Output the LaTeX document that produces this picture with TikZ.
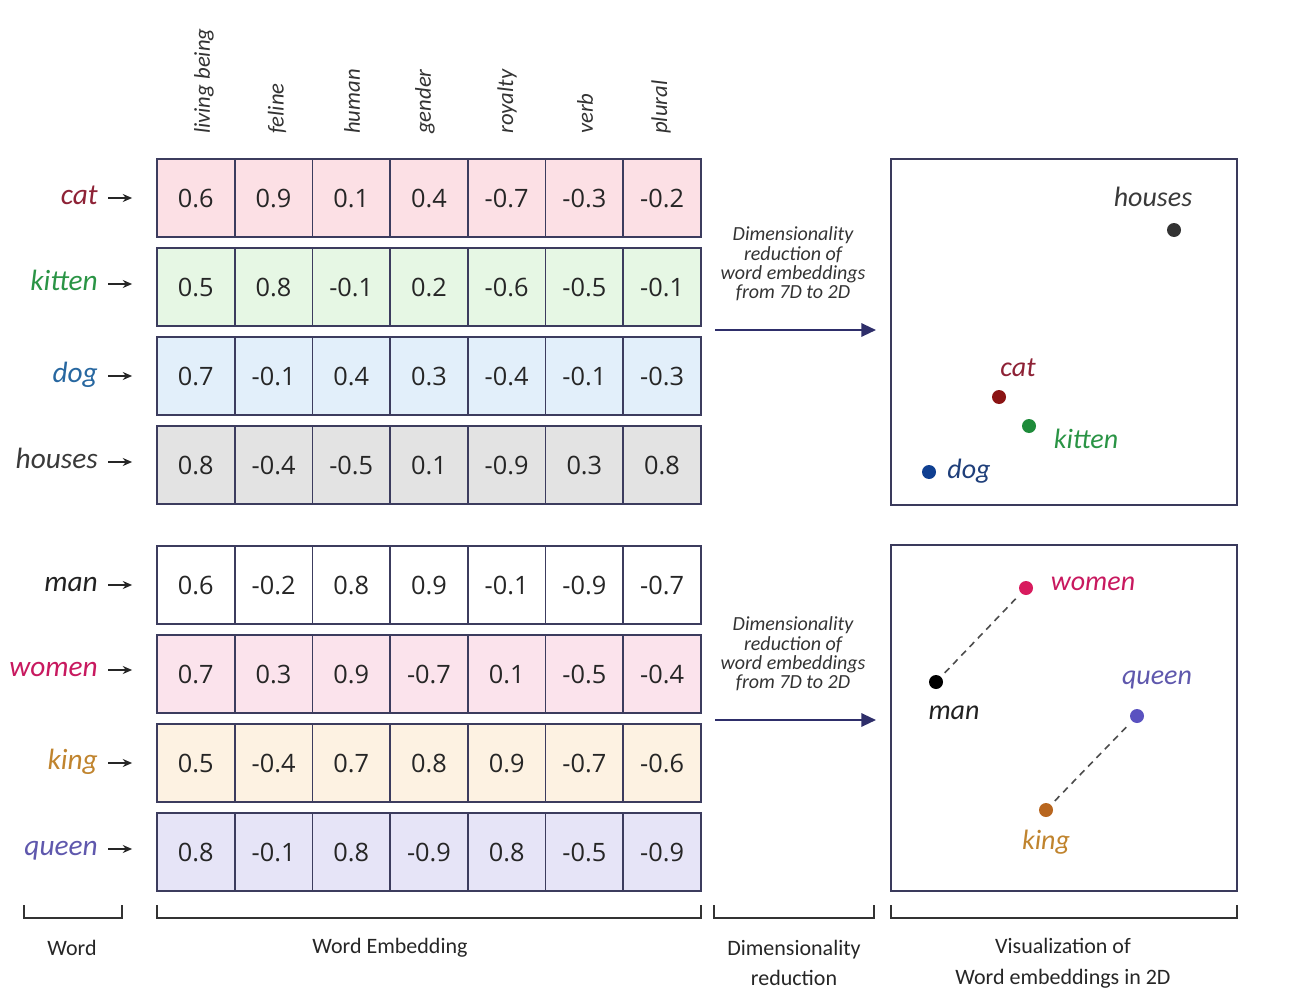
\documentclass[tikz,border=0pt]{standalone}
\usepackage{fontspec}
\setmainfont{Carlito}
\newfontfamily\numfont{Open Sans}
\usetikzlibrary{arrows.meta}
\definecolor{cellborder}{HTML}{3C3C5E}
\definecolor{boxborder}{HTML}{3A3A5C}
\definecolor{navy}{HTML}{2E2E6A}
\definecolor{pinkfill}{HTML}{FCE0E5}
\definecolor{greenfill}{HTML}{E6F7E4}
\definecolor{bluefill}{HTML}{E2EFFA}
\definecolor{grayfill}{HTML}{E3E3E3}
\definecolor{womenfill}{HTML}{FBE3EC}
\definecolor{kingfill}{HTML}{FDF2E2}
\definecolor{queenfill}{HTML}{E6E4F7}
\definecolor{catc}{HTML}{8E2236}
\definecolor{kittenc}{HTML}{2A9445}
\definecolor{dogc}{HTML}{2767A0}
\definecolor{housesc}{HTML}{3A3A3A}
\definecolor{manc}{HTML}{222222}
\definecolor{womenc}{HTML}{C8195F}
\definecolor{kingc}{HTML}{C0842E}
\definecolor{queenc}{HTML}{5F58AD}
\definecolor{catd}{HTML}{8B1414}
\definecolor{kittend}{HTML}{1E8B3A}
\definecolor{dogd}{HTML}{0F3F91}
\definecolor{dogl}{HTML}{1F3F7A}
\definecolor{housesd}{HTML}{333333}
\definecolor{womend}{HTML}{D81B5E}
\definecolor{queend}{HTML}{5A52C0}
\definecolor{kingd}{HTML}{B8661F}
\begin{document}
\begin{tikzpicture}[x=0.75pt,y=-0.75pt,
  cell/.style={draw=cellborder, line width=1.3pt, minimum width=58.3pt, minimum height=58.5pt,
    inner sep=0pt, font=\numfont\fontsize{19}{22}\selectfont, text=black!85},
  wlab/.style={anchor=east, inner sep=0pt, text height=1.1em, text depth=0.2em,
    font=\itshape\fontsize{22}{25}\selectfont},
  warrow/.style={-{Stealth[length=7pt,width=6pt]}, line width=1.6pt, black!85,
    shorten <=7.5pt, shorten >=18pt},
  hdr/.style={rotate=90, anchor=west, inner sep=0pt, text=black!80,
    font=\itshape\fontsize{17}{20}\selectfont},
  dimtext/.style={align=center, inner sep=0pt, text=black!80,
    font=\itshape\fontsize{15}{14.6}\selectfont},
  bigarrow/.style={-{Triangle[length=11pt,width=10pt]}, line width=1.6pt, navy, shorten >=10.5pt},
  plotbox/.style={draw=boxborder, line width=1.5pt, minimum width=259.5pt, minimum height=259.5pt, inner sep=0pt},
  dot/.style={circle, inner sep=0pt, minimum size=10.5pt},
  plab/.style={inner sep=0pt, font=\itshape\fontsize{21}{24}\selectfont},
  dashline/.style={dashed, dash pattern=on 5pt off 4pt, line width=1.2pt, black!70},
  bracket/.style={line width=1.5pt, black!80},
  caption/.style={align=center, inner sep=0pt, text=black!85, font=\fontsize{16.5}{23}\selectfont}
]
\useasboundingbox (0,0) rectangle (1314,1006);

% headers
\node[hdr] (h1) at (204,134) {living being};
\node[hdr] (h2) at (277,134) {feline};
\node[hdr] (h3) at (352,134) {human};
\node[hdr] (h4) at (425,134) {gender};
\node[hdr] (h5) at (507,134) {royalty};
\node[hdr] (h6) at (585,134) {verb};
\node[hdr] (h7) at (661,134) {plural};

% table rows
\foreach \v [count=\i] in {0.6,0.9,0.1,0.4,-0.7,-0.3,-0.2}
  \node[cell, fill=pinkfill] (cat-\i) at ({157+77.7*(\i-0.5)},198) {\v};
\foreach \v [count=\i] in {0.5,0.8,-0.1,0.2,-0.6,-0.5,-0.1}
  \node[cell, fill=greenfill] (kitten-\i) at ({157+77.7*(\i-0.5)},287) {\v};
\foreach \v [count=\i] in {0.7,-0.1,0.4,0.3,-0.4,-0.1,-0.3}
  \node[cell, fill=bluefill] (dog-\i) at ({157+77.7*(\i-0.5)},376) {\v};
\foreach \v [count=\i] in {0.8,-0.4,-0.5,0.1,-0.9,0.3,0.8}
  \node[cell, fill=grayfill] (houses-\i) at ({157+77.7*(\i-0.5)},465) {\v};
\foreach \v [count=\i] in {0.6,-0.2,0.8,0.9,-0.1,-0.9,-0.7}
  \node[cell, fill=white] (man-\i) at ({157+77.7*(\i-0.5)},585) {\v};
\foreach \v [count=\i] in {0.7,0.3,0.9,-0.7,0.1,-0.5,-0.4}
  \node[cell, fill=womenfill] (women-\i) at ({157+77.7*(\i-0.5)},674) {\v};
\foreach \v [count=\i] in {0.5,-0.4,0.7,0.8,0.9,-0.7,-0.6}
  \node[cell, fill=kingfill] (king-\i) at ({157+77.7*(\i-0.5)},763) {\v};
\foreach \v [count=\i] in {0.8,-0.1,0.8,-0.9,0.8,-0.5,-0.9}
  \node[cell, fill=queenfill] (queen-\i) at ({157+77.7*(\i-0.5)},852) {\v};

% word labels and arrows
\node[wlab, text=catc] (wcat) at (98,198) {cat};
\node[wlab, text=kittenc] (wkitten) at (98,284) {kitten};
\node[wlab, text=dogc] (wdog) at (98,376) {dog};
\node[wlab, text=housesc] (whouses) at (98,462) {houses};
\node[wlab, text=manc] (wman) at (98,585) {man};
\node[wlab, text=womenc] (wwomen) at (98,670) {women};
\node[wlab, text=kingc] (wking) at (98,763) {king};
\node[wlab, text=queenc] (wqueen) at (98,849) {queen};
\foreach \w in {cat,kitten,dog,houses,man,women,king,queen}
  \draw[warrow] (w\w.east) -- (w\w.east -| \w-1.west);

% dimensionality reduction texts and arrows
\node[dimtext] (dr1) at (793,264) {Dimensionality\\reduction of\\word embeddings\\from 7D to 2D};
\node[dimtext] (dr2) at (793,654) {Dimensionality\\reduction of\\word embeddings\\from 7D to 2D};

\node[plotbox] (pbox1) at (1064,332) {};
\node[plotbox] (pbox2) at (1064,718) {};

\coordinate (a1) at (715,330);
\coordinate (a2) at (715,720);
\draw[bigarrow] (a1) -- (a1 -| pbox1.west);
\draw[bigarrow] (a2) -- (a2 -| pbox2.west);

% top plot
\node[dot, fill=housesd] (dhouses) at (1174,230) {};
\node[plab, text=housesc] (phouses) at (1153,197) {houses};
\node[dot, fill=catd] (dcat) at (999,397) {};
\node[plab, text=catc] (pcat) at (1018,368) {cat};
\node[dot, fill=kittend] (dkitten) at (1029,426) {};
\node[plab, text=kittenc] (pkitten) at (1086,439) {kitten};
\node[dot, fill=dogd] (ddog) at (929,472) {};
\node[plab, text=dogl] (pdog) at (969,471) {dog};

% bottom plot
\node[dot, fill=womend] (dwomen) at (1026,588) {};
\node[plab, text=womenc] (pwomen) at (1093,584) {women};
\node[dot, fill=black] (dman) at (936,682) {};
\node[plab, text=manc] (pman) at (954,713) {man};
\node[dot, fill=queend] (dqueen) at (1137,716) {};
\node[plab, text=queenc] (pqueen) at (1157,680) {queen};
\node[dot, fill=kingd] (dking) at (1046,810) {};
\node[plab, text=kingc] (pking) at (1046,842) {king};
\draw[dashline, shorten <=4pt, shorten >=4pt] (dman) -- (dwomen);
\draw[dashline, shorten <=4pt, shorten >=4pt] (dking) -- (dqueen);

% brackets
\draw[bracket] (24,905) -- (24,918) -- (122,918) -- (122,905);
\draw[bracket] (157,905) -- (157,918) -- (701,918) -- (701,905);
\draw[bracket] (714,905) -- (714,918) -- (874,918) -- (874,905);
\draw[bracket] (891,905) -- (891,918) -- (1237,918) -- (1237,905);

\node[caption] (c1) at (72,948) {Word};
\node[caption] (c2) at (390,948) {Word Embedding};
\node[caption] (c3) at (794,963) {Dimensionality\\reduction};
\node[caption] (c4) at (1063,963) {Visualization of\\Word embeddings in 2D};
\end{tikzpicture}
\end{document}
